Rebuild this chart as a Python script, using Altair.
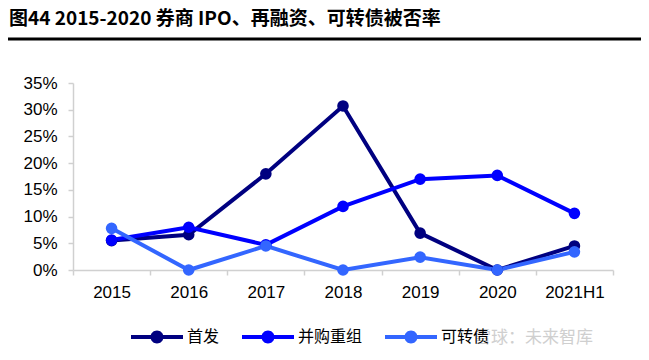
import altair as alt
import pandas as pd

years = ["2015", "2016", "2017", "2018", "2019", "2020", "2021H1"]
series_names = ["首发", "并购重组", "可转债"]
ipo = [5.5, 6.6, 18.0, 30.7, 6.9, 0.0, 4.5]
mna = [5.6, 8.0, 4.7, 11.9, 17.0, 17.7, 10.6]
cb = [7.8, 0.0, 4.5, 0.0, 2.4, 0.0, 3.4]
colors = ["#000080", "#0000FF", "#3366FF"]
title_text = "图44 2015-2020 券商 IPO、再融资、可转债被否率"
watermark = "雪球：未来智库"

rows = []
for name, vals in zip(series_names, [ipo, mna, cb]):
    for i, (y, v) in enumerate(zip(years, vals)):
        rows.append({"year": y, "value": v, "series": name, "order": series_names.index(name)})
df = pd.DataFrame(rows)

W, H = 540, 187
PL, PT = 65, 75

legend_path = ("M-1,-0.08H1V0.08H-1Z "
               "M0.25,0A0.25,0.25 0 1,1 -0.25,0A0.25,0.25 0 1,1 0.25,0Z")

color = alt.Color(
    "series:N",
    scale=alt.Scale(domain=series_names, range=colors),
    sort=series_names,
    legend=alt.Legend(
        title=None, orient="none", direction="horizontal",
        legendX=58, legendY=228,
        symbolType=legend_path, symbolSize=2704, symbolStrokeWidth=0,
        symbolOpacity=1,
        labelFont="Noto Sans CJK SC", labelFontSize=16, labelColor="#000000",
        labelOffset=4, columnPadding=22,
    ),
)

x = alt.X("year:N", sort=years, title=None,
          scale=alt.Scale(paddingInner=0, paddingOuter=0),
          axis=alt.Axis(labelAngle=0, labelFont="Liberation Sans", labelFontSize=17,
                        labelColor="#000000", domainColor="#d0d0d0", tickColor="#d0d0d0",
                        tickBand="extent", tickSize=5, labelPadding=9, grid=False,
                        domainWidth=1.5, tickWidth=1.5))
y = alt.Y("value:Q", title=None,
          scale=alt.Scale(domain=[0, 35], nice=False),
          axis=alt.Axis(values=[0, 5, 10, 15, 20, 25, 30, 35],
                        labelExpr="datum.value + '%'",
                        labelFont="Liberation Sans", labelFontSize=17,
                        labelColor="#000000", domainColor="#d0d0d0", tickColor="#d0d0d0",
                        tickSize=5, labelPadding=11, grid=False,
                        domainWidth=1.5, tickWidth=1.5))

base = alt.Chart(df)
lines = base.mark_line(strokeWidth=4).encode(
    x=x, y=y, color=color, order=alt.Order("order:Q"))
points = base.mark_point(filled=True, size=135, opacity=1).encode(
    x=x, y=y, color=color, order=alt.Order("order:Q"))

title_df = pd.DataFrame({"t": [title_text]})
title = alt.Chart(title_df).mark_text(
    align="left", baseline="middle", font="Noto Sans CJK SC",
    fontSize=19, fontWeight="bold", color="#000000"
).encode(text="t:N", x=alt.value(-PL + 1), y=alt.value(19 - 8 - PT))

rule = alt.Chart(title_df).mark_rule(color="#000000", strokeWidth=3).encode(
    x=alt.value(-PL), x2=alt.value(633 - PL), y=alt.value(39 - 8 - PT))

wm_df = pd.DataFrame({"t": [watermark]})
wm = alt.Chart(wm_df).mark_text(
    align="left", baseline="middle", font="Noto Sans CJK SC",
    fontSize=17, color="#c4c4c4", opacity=0.8
).encode(text="t:N", x=alt.value(474 - 8 - PL), y=alt.value(338 - 8 - PT))

chart = alt.layer(lines, points, title, rule, wm).properties(
    width=W, height=H,
    autosize=alt.AutoSizeParams(type="none"),
    padding={"left": PL, "top": PT, "right": 633 - PL - W, "bottom": 344 - PT - H},
).configure_view(stroke=None)

chart.save("out.html", embed_options={"renderer": "svg", "actions": False})
